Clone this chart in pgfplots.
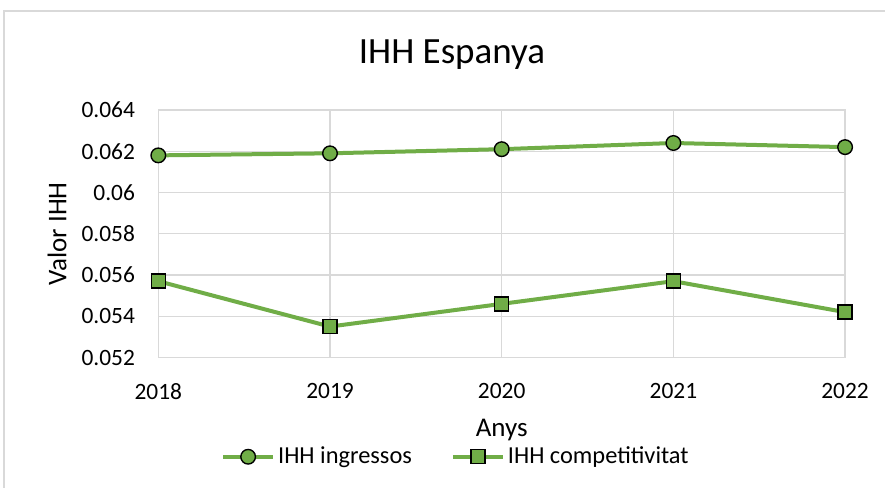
\documentclass[border=0pt]{standalone}
\usepackage{fontspec}
\setmainfont{Carlito}
\usepackage{pgfplots}
\pgfplotsset{compat=1.18}
\definecolor{lgreen}{HTML}{70AD47}
\definecolor{gridgray}{HTML}{D9D9D9}
\begin{document}
\begin{tikzpicture}
\useasboundingbox (0,0) rectangle (442.5pt,244pt);
\draw[gridgray, line width=0.6pt] (2pt,-1pt) -- (2pt,238.5pt) -- (443pt,238.5pt);
\node[font=\fontsize{18.5}{22}\selectfont] at (226pt,216.5pt) {IHH Espanya};
\begin{axis}[
  at={(79.15pt,65.25pt)}, anchor=south west,
  scale only axis, width=343.4pt, height=123.75pt,
  xmin=2018, xmax=2022, ymin=0.052, ymax=0.064,
  xtick={2018,2019,2020,2021,2022},
  xticklabels={2018,2019,2020,2021,2022},
  ytick={0.052,0.054,0.056,0.058,0.060,0.062,0.064},
  yticklabels={0.052,0.054,0.056,0.058,0.06,0.062,0.064},
  scaled y ticks=false,
  /pgf/number format/assume math mode=true,
  major tick length=0pt,
  grid=major,
  major grid style={draw=gridgray, line width=0.6pt},
  axis line style={draw=gridgray, line width=0.8pt},
  tick label style={font=\fontsize{11.7}{13}\selectfont, text=black},
  yticklabel style={anchor=east, inner sep=0pt, xshift=-11.5pt},
  xticklabel style={anchor=north, inner sep=0pt, yshift=-12.75pt},
  xlabel={Anys}, ylabel={Valor IHH},
  label style={font=\fontsize{13.5}{15}\selectfont},
  xlabel style={at={(axis description cs:0.5,-0.293)}, anchor=center},
  ylabel style={at={(axis description cs:-0.1475,0.5)}, anchor=center},
  legend columns=2,
  legend style={at={(axis description cs:0.434,-0.401)}, anchor=center, draw=none, fill=none,
    font=\fontsize{12.2}{14}\selectfont, nodes={inner sep=1.5pt},
    /tikz/every even column/.append style={column sep=18pt}},
  legend image code/.code={\draw[mark repeat=2,mark phase=2,#1] plot coordinates {(0pt,0pt)(12.5pt,0pt)(25pt,0pt)};},
  clip=false,
]
\addplot[draw=lgreen, line width=2pt, mark=*, mark size=3.65pt,
  mark options={fill=lgreen, draw=black, line width=0.7pt}]
  coordinates {(2018,0.0618) (2019,0.0619) (2020,0.0621) (2021,0.0624) (2022,0.0622)};
\addlegendentry{IHH ingressos}
\addplot[draw=lgreen, line width=2pt, mark=square*, mark size=3.5pt,
  mark options={fill=lgreen, draw=black, line width=0.7pt}]
  coordinates {(2018,0.0557) (2019,0.0535) (2020,0.0546) (2021,0.0557) (2022,0.0542)};
\addlegendentry{IHH competitivitat}
\end{axis}
\end{tikzpicture}
\end{document}
